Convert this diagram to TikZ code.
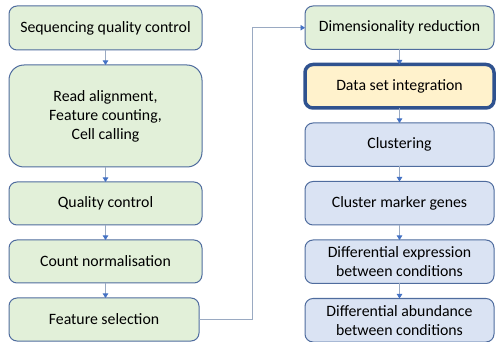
\documentclass[tikz,border=0pt]{standalone}
\usepackage{fontspec}
\setmainfont{Carlito}
\usetikzlibrary{arrows.meta,positioning}

\definecolor{stepgreen}{HTML}{E2F0D9}
\definecolor{stepblue}{HTML}{DAE3F3}
\definecolor{stepyellow}{HTML}{FFF2CC}
\definecolor{stepborder}{HTML}{4F6C9E}
\definecolor{stepdark}{HTML}{2F528F}
\definecolor{linkgrey}{HTML}{9AAAC2}
\definecolor{tipblue}{HTML}{4472C4}

\begin{document}
\begin{tikzpicture}[node distance=15pt, x=1pt, y=1pt]
          \tikzset{
              mynode/.style={rectangle, rounded corners=8pt, draw=stepborder, line width=1pt, inner sep=2pt, outer sep=0pt,
                             minimum width=193pt, minimum height=43pt, align=center,
                             font=\fontsize{15.8}{19}\selectfont},
              greennode/.style={mynode, fill=stepgreen},
              bluenode/.style={mynode, fill=stepblue, minimum width=189pt, minimum height=43.5pt},
              myarrow/.style={draw=linkgrey, line width=0.9pt, -{Triangle[width=5.5pt, length=4.5pt, color=tipblue]}}
          }
          \useasboundingbox (0,0) rectangle (496,-342);

          % left column
          \node[greennode, minimum height=44pt] (seq-qc) at (105.5,-28) {Sequencing quality control};
          \node[greennode, below=of seq-qc, minimum height=102pt, rounded corners=15pt] (alignment) {Read alignment,\\Feature counting,\\Cell calling};
          \node[greennode, below=of alignment] (qc) {Quality control};
          \node[greennode, below=of qc] (normalisation) {Count normalisation};
          \node[greennode, below=of normalisation, minimum width=190pt, xshift=-1.5pt] (feature-selection) {Feature selection};

          % right column
          \node[greennode, minimum width=189pt, minimum height=43.5pt] (dim-reduction) at (399.5,-27.75) {Dimensionality reduction};
          \node[mynode, fill=stepyellow, draw=stepdark, line width=3.5pt, minimum width=189pt, minimum height=43.5pt, below=of dim-reduction] (integration) {Data set integration};
          \node[bluenode, below=of integration] (clustering) {Clustering};
          \node[bluenode, below=of clustering] (markers) {Cluster marker genes};
          \node[bluenode, below=of markers] (diff-expression) {Differential expression\\between conditions};
          \node[bluenode, below=of diff-expression] (diff-abundance) {Differential abundance\\between conditions};

          \draw[myarrow] (seq-qc) -- (alignment);
          \draw[myarrow] (alignment) -- (qc);
          \draw[myarrow] (qc) -- (normalisation);
          \draw[myarrow] (normalisation.south) -- (normalisation.south |- feature-selection.north);
          \draw[myarrow] (feature-selection.east) -- ++(53,0) |- (dim-reduction.west);
          \draw[myarrow] (dim-reduction) -- (integration);
          \draw[myarrow] (integration) -- (clustering);
          \draw[myarrow] (clustering) -- (markers);
          \draw[myarrow] (markers) -- (diff-expression);
          \draw[myarrow] (diff-expression) -- (diff-abundance);
\end{tikzpicture}
\end{document}
